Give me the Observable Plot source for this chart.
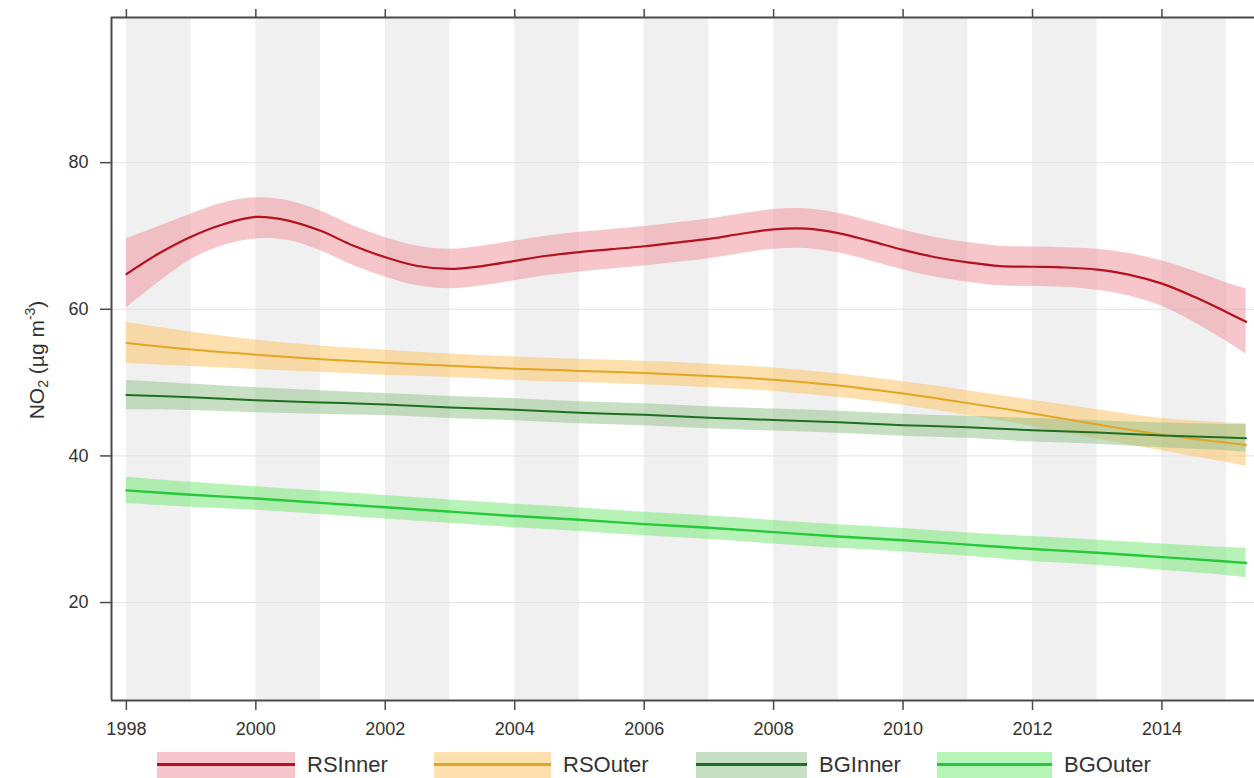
<!DOCTYPE html>
<html><head><meta charset="utf-8">
<script src="https://cdn.jsdelivr.net/npm/d3@7"></script>
<script src="https://cdn.jsdelivr.net/npm/@observablehq/plot@0.6"></script>
<style>
body{margin:0;background:#fff;font-family:"Liberation Sans",Arial,sans-serif;}
#wrap{position:relative;width:1254px;height:778px;overflow:hidden;background:#fff}
#ylab{position:absolute;left:36px;top:360px;transform:translate(-50%,-50%) rotate(-90deg);font-size:21px;color:#333;white-space:nowrap;line-height:1}
#ylab sub{font-size:14px;vertical-align:-4px;line-height:0}
#ylab sup{font-size:14px;vertical-align:9px;line-height:0}
.item{position:absolute;top:752px;height:26px;display:flex;align-items:center}
.sw{position:relative;height:26px}
.sw i{position:absolute;left:0;right:0;top:11px;height:3px}
.lt{font-size:22px;color:#333;margin-left:12px;line-height:26px}
</style></head>
<body><div id="wrap"><div id="chart"></div><div id="ylab">NO<sub>2</sub> (µg m<sup>-3</sup>)</div><div id="legend"></div></div>
<script>
// ---- data ----
const seriesNames = ["RSInner","RSOuter","BGInner","BGOuter"];
const lineColors = ["#b3121e","#e2a624","#1f6f22","#25c93a"];
const bandColors = ["#ee8d98","#fcc25c","#8fbf88","#6fe870"];

const rsInnerYears = [1998,1998.5,1999,1999.5,2000,2000.5,2001,2001.5,2002,2002.5,2003,2003.5,2004,2004.5,2005,2005.5,2006,2006.5,2007,2007.5,2008,2008.5,2009,2009.5,2010,2010.5,2011,2011.5,2012,2012.5,2013,2013.5,2014,2014.5,2015,2015.3];
const rsInnerMean = [64.8,67.6,69.9,71.6,72.6,72.1,70.7,68.7,67.1,65.9,65.5,65.9,66.6,67.3,67.8,68.2,68.6,69.1,69.6,70.3,70.9,71.0,70.4,69.3,68.1,67.1,66.4,65.9,65.8,65.7,65.4,64.7,63.5,61.7,59.6,58.3];
const rsInnerHi   = [69.6,71.3,73.0,74.5,75.2,74.8,73.4,71.4,69.8,68.6,68.2,68.6,69.3,70.0,70.5,70.9,71.3,71.8,72.3,73.0,73.6,73.7,73.1,72.0,70.8,69.8,69.1,68.6,68.5,68.4,68.2,67.6,66.6,65.2,63.6,62.8];
const rsInnerLo   = [60.2,63.7,66.8,68.7,69.6,69.4,68.0,66.0,64.4,63.2,62.8,63.2,63.9,64.6,65.1,65.5,65.9,66.4,66.9,67.6,68.2,68.3,67.7,66.6,65.4,64.4,63.7,63.2,63.1,63.0,62.6,61.8,60.4,58.2,55.6,53.9];

const annualYears = [1998,1999,2000,2001,2002,2003,2004,2005,2006,2007,2008,2009,2010,2011,2012,2013,2014,2015,2015.3];
const rsOuterMean = [55.4,54.5,53.8,53.2,52.7,52.3,51.9,51.6,51.3,50.9,50.4,49.6,48.5,47.2,45.8,44.3,42.9,41.8,41.5];
const rsOuterHi   = [58.2,56.9,55.8,55.0,54.4,53.9,53.5,53.2,52.9,52.5,52.0,51.2,50.1,48.9,47.6,46.3,45.1,44.5,44.4];
const rsOuterLo   = [52.6,52.2,51.8,51.4,51.0,50.7,50.3,50.0,49.7,49.3,48.8,48.0,46.9,45.5,44.0,42.3,40.7,39.1,38.6];

const bgInnerMean = [48.3,48.0,47.6,47.3,47.0,46.6,46.3,45.9,45.6,45.2,44.9,44.6,44.2,43.9,43.5,43.2,42.8,42.5,42.4];
const bgInnerHi   = [50.3,49.8,49.3,48.9,48.5,48.1,47.8,47.4,47.1,46.7,46.4,46.1,45.7,45.4,45.1,44.8,44.5,44.3,44.3];
const bgInnerLo   = [46.3,46.2,45.9,45.7,45.5,45.1,44.8,44.4,44.1,43.7,43.4,43.1,42.7,42.4,41.9,41.6,41.1,40.7,40.5];

const bgOuterMean = [35.3,34.7,34.2,33.6,33.0,32.4,31.8,31.3,30.7,30.2,29.6,29.0,28.5,27.9,27.3,26.8,26.2,25.6,25.4];
const bgOuterHi   = [37.1,36.4,35.8,35.2,34.6,34.0,33.4,32.9,32.3,31.8,31.2,30.6,30.1,29.5,29.0,28.5,28.0,27.5,27.4];
const bgOuterLo   = [33.5,33.0,32.6,32.0,31.4,30.8,30.2,29.7,29.1,28.6,28.0,27.4,26.9,26.3,25.6,25.1,24.4,23.7,23.4];

const xTicks = [1998,2000,2002,2004,2006,2008,2010,2012,2014];
const yTicks = [20,40,60,80];
const stripeStarts = [1998,2000,2002,2004,2006,2008,2010,2012,2014];
const xDomain = [1997.77, 2015.43];
const yDomain = [6.64, 99.8];

// ---- build table ----
const seriesData = [
  {name:"RSInner", years:rsInnerYears, mean:rsInnerMean, lo:rsInnerLo, hi:rsInnerHi},
  {name:"RSOuter", years:annualYears, mean:rsOuterMean, lo:rsOuterLo, hi:rsOuterHi},
  {name:"BGInner", years:annualYears, mean:bgInnerMean, lo:bgInnerLo, hi:bgInnerHi},
  {name:"BGOuter", years:annualYears, mean:bgOuterMean, lo:bgOuterLo, hi:bgOuterHi}
].map(s => ({name:s.name, rows:s.years.map((y,i)=>({year:y, mean:s.mean[i], lo:s.lo[i], hi:s.hi[i]}))}));

const axisColor = "#4a4a4a";
const marks = [
  Plot.rect(stripeStarts, {x1:d=>d, x2:d=>d+1, fill:"#f0f0f0"}),
  Plot.ruleY(yTicks, {stroke:"#e2e2e2", strokeWidth:1})
];
seriesData.forEach((s,i)=>{
  marks.push(Plot.areaY(s.rows, {x:"year", y1:"lo", y2:"hi", fill:bandColors[i], fillOpacity:0.5, curve:"catmull-rom"}));
});
const widths = [2.2,2,2,2.4];
seriesData.forEach((s,i)=>{
  marks.push(Plot.line(s.rows, {x:"year", y:"mean", stroke:lineColors[i], strokeWidth:widths[i], curve:"catmull-rom"}));
});
marks.push(
  Plot.ruleX([xDomain[0]], {stroke:axisColor, strokeWidth:2}),
  Plot.ruleY([yDomain[0], yDomain[1]], {stroke:axisColor, strokeWidth:2}),
  Plot.axisY(yTicks, {anchor:"left", tickSize:11, tickPadding:12, stroke:axisColor, strokeWidth:1.5, fill:"#333", label:null}),
  Plot.axisX(xTicks, {anchor:"bottom", tickSize:10, tickPadding:12, stroke:axisColor, strokeWidth:1.5, fill:"#333", tickFormat:d=>String(d), label:null}),
  Plot.axisX(xTicks, {anchor:"top", tickSize:9, stroke:axisColor, strokeWidth:1.5, tickFormat:()=>"", label:null})
);

const chart = Plot.plot({
  width:1254, height:745,
  marginLeft:111, marginRight:0, marginTop:17, marginBottom:45,
  x:{domain:xDomain},
  y:{domain:yDomain},
  style:{fontFamily:"'Liberation Sans', Arial, sans-serif", fontSize:"18px", background:"white", color:"#333"},
  marks
});
document.getElementById("chart").appendChild(chart);

// ---- legend ----
const legendLeft = [157, 434, 696, 937];
const swatchWidths = [138, 117, 111, 115];
const legend = document.getElementById("legend");
seriesNames.forEach((n,i)=>{
  const it = document.createElement("div");
  it.className = "item";
  it.style.left = legendLeft[i] + "px";
  const sw = document.createElement("div");
  sw.className = "sw";
  sw.style.width = swatchWidths[i] + "px";
  sw.style.background = d3.interpolateRgb("white", bandColors[i])(0.5);
  const ln = document.createElement("i");
  ln.style.background = lineColors[i];
  sw.appendChild(ln);
  const t = document.createElement("span");
  t.className = "lt";
  t.textContent = n;
  it.appendChild(sw); it.appendChild(t);
  legend.appendChild(it);
});
</script>
</body></html>
